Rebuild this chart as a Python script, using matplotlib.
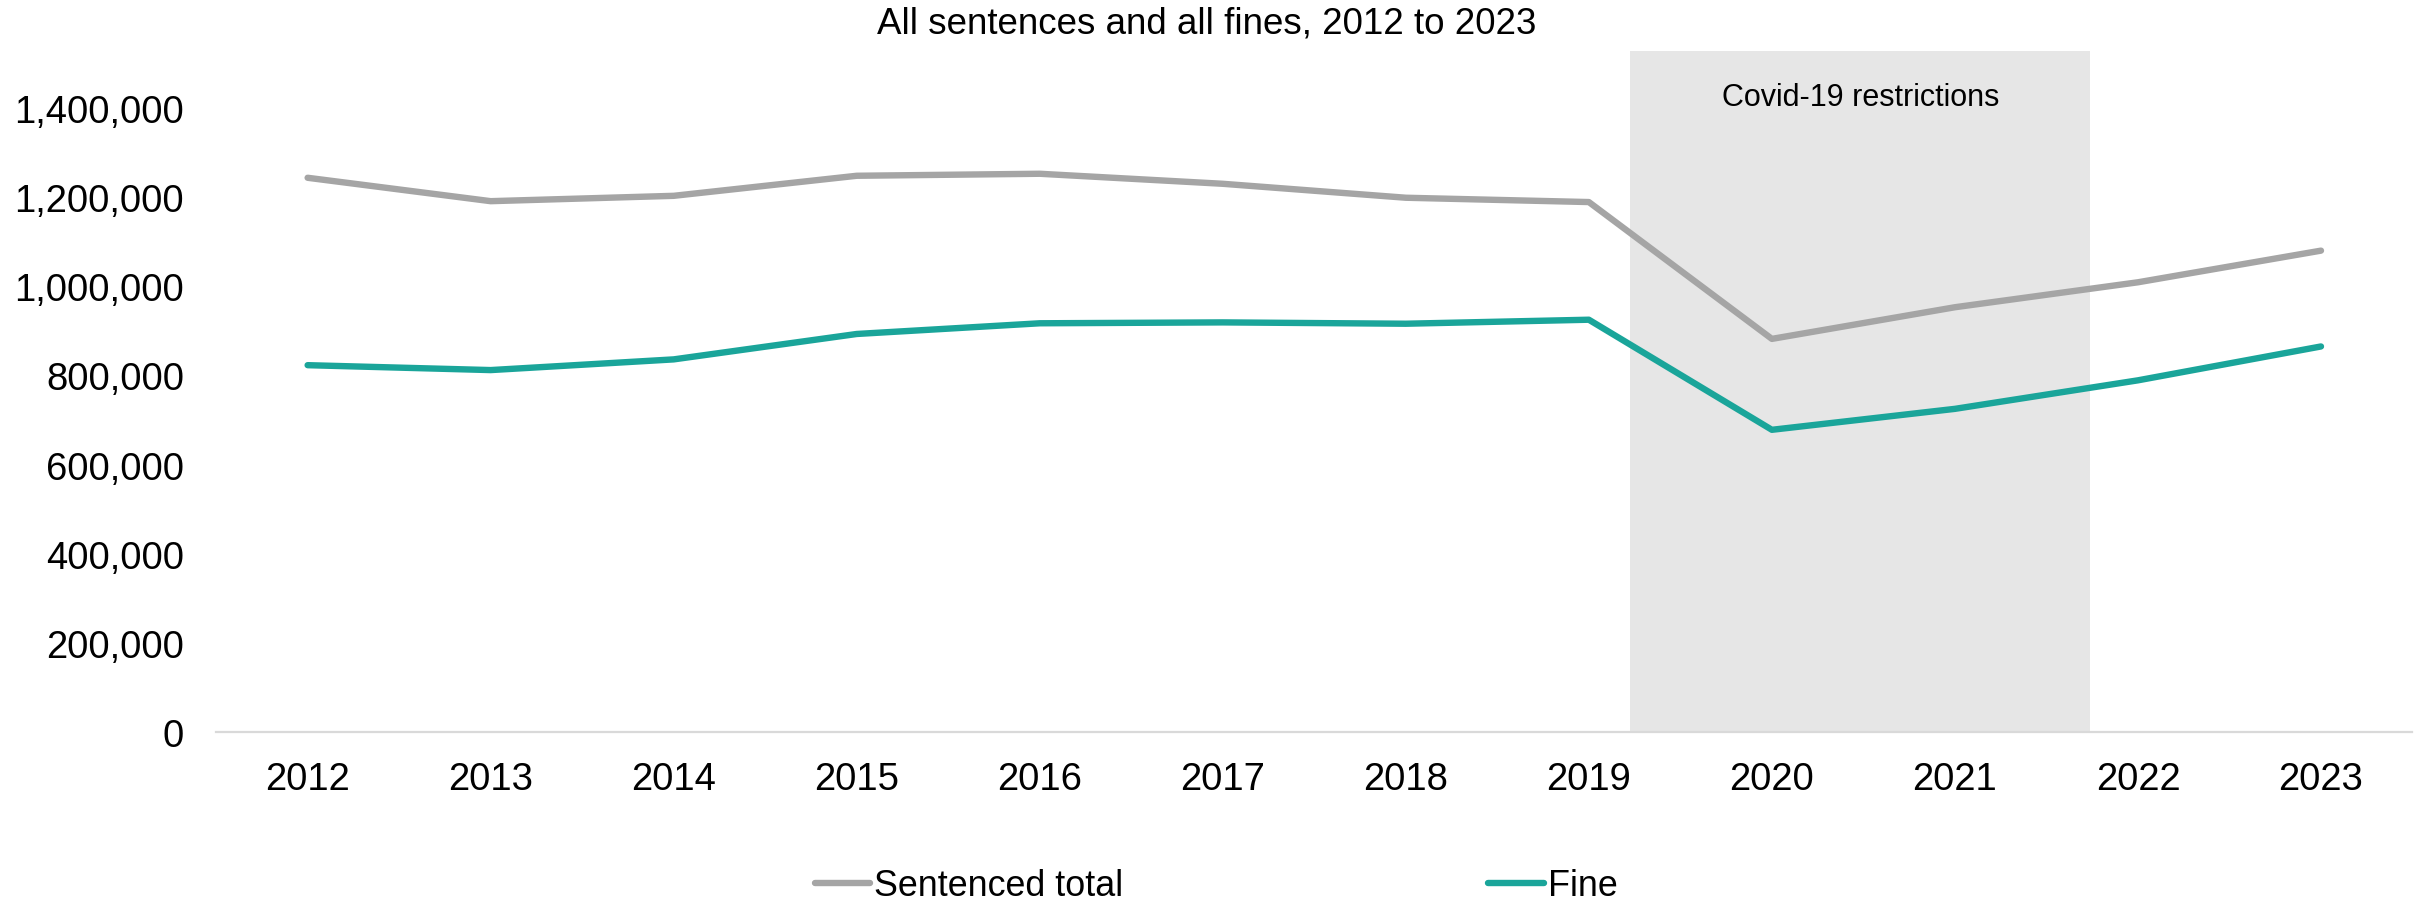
import matplotlib
matplotlib.use("Agg")
import matplotlib.pyplot as plt
import numpy as np

# yearly counts of people sentenced and of fines handed down
years = ["2012", "2013", "2014", "2015", "2016", "2017",
         "2018", "2019", "2020", "2021", "2022", "2023"]
sentenced_total = [1243500, 1191000, 1203000, 1248000, 1252500, 1230000,
                   1198700, 1189000, 882000, 953000, 1009000, 1080000]
fine = [823000, 812000, 836000, 893000, 917000, 919000,
        916000, 925000, 678000, 725000, 789000, 865000]

# lockdown period, in category units along the x axis
covid_start = 7.226
covid_end = 9.739

GREY = "#A5A5A5"
TEAL = "#1AA59A"

plt.rcParams["font.family"] = ["Liberation Sans", "DejaVu Sans"]


def main():
    fig = plt.figure(figsize=(24.2, 9.04), dpi=100)
    ax = fig.add_axes([0.0893, 0.1892, 0.9076, 0.7533])

    x = np.arange(len(years))
    ax.axvspan(covid_start, covid_end, color="#E6E6E6", lw=0, zorder=0)
    ax.text((covid_start + covid_end) / 2, 1.425e6, "Covid-19 restrictions",
            ha="center", va="center", fontsize=22, color="black")

    ax.plot(x, sentenced_total, color=GREY, lw=4.6,
            solid_capstyle="round", solid_joinstyle="round",
            label="Sentenced total", zorder=3)
    ax.plot(x, fine, color=TEAL, lw=4.6,
            solid_capstyle="round", solid_joinstyle="round",
            label="Fine", zorder=3)

    ax.set_xlim(-0.5, len(years) - 0.5)
    ax.set_ylim(0, 1.528e6)
    ax.set_xticks(x)
    ax.set_xticklabels(years)
    ax.set_yticks(np.arange(0, 1400001, 200000))
    ax.yaxis.set_major_formatter(
        matplotlib.ticker.FuncFormatter(lambda v, p: f"{int(v):,}"))
    ax.tick_params(axis="both", length=0, labelsize=27.5)
    ax.tick_params(axis="x", pad=21)
    ax.tick_params(axis="y", pad=23)

    for side in ["top", "right", "left"]:
        ax.spines[side].set_visible(False)
    ax.spines["bottom"].set_color("#D9D9D9")
    ax.spines["bottom"].set_linewidth(1.6)
    ax.spines["bottom"].set_zorder(1)

    fig.text(0.4988, 0.973, "All sentences and all fines, 2012 to 2023",
             ha="center", va="center", fontsize=26.5)

    handles, labels = ax.get_legend_handles_labels()
    fig.legend(handles, labels, loc="center", ncol=2,
               bbox_to_anchor=(0.5025, 1 - 887 / 904), frameon=False,
               fontsize=25.8, handlelength=1.55, handletextpad=0.1,
               columnspacing=10.2, borderaxespad=0)

    fig.savefig("out.png", dpi=100)


if __name__ == "__main__":
    main()
